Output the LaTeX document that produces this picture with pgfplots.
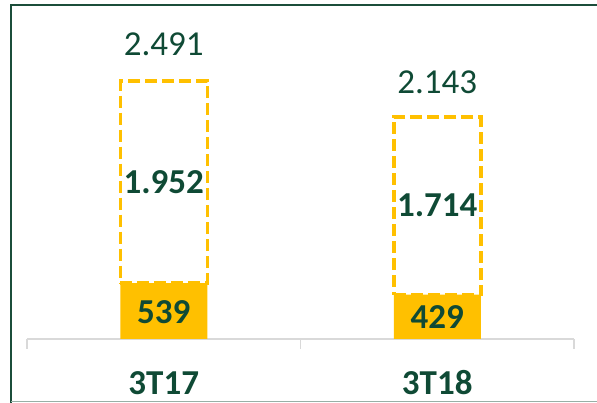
\documentclass[border=0pt]{standalone}
\usepackage{fontspec}
\setmainfont{Carlito}
\usepackage{pgfplots}
\pgfplotsset{compat=1.18}
\definecolor{gold}{HTML}{FFC000}
\definecolor{dgreen}{HTML}{0F4A35}
\definecolor{framec}{HTML}{1B4D3A}
\definecolor{axgray}{HTML}{D9D9D9}
\begin{document}
\begin{tikzpicture}[x=1pt,y=1pt]
\path[use as bounding box] (0,0) rectangle (597,403);
\draw[framec, line width=2.2pt] (11,0) -- (11,398) -- (597,398);
\draw[color=framec!45, line width=1pt] (11,1) -- (597,1);
\begin{axis}[
  at={(27pt,64pt)}, anchor=south west,
  scale only axis, width=547pt, height=269.4pt,
  xmin=-0.5, xmax=1.5, ymin=0, ymax=2600,
  ybar stacked, bar width=87pt,
  clip=false,
  axis y line=none,
  axis x line*=bottom,
  x axis line style={-, draw=axgray, line width=1.5pt},
  xtick={-0.5,0.5,1.5}, xticklabels={},
  xtick align=outside, major tick length=10pt,
  xtick style={draw=axgray, line width=1.5pt},
  ytick=\empty,
]
\addplot[fill=gold, draw=none] coordinates {(0,539) (1,429)};
\addplot[draw=gold, line width=3.5pt, dash pattern=on 12pt off 5pt, fill=none] coordinates {(0,1952) (1,1714)};
\coordinate (t1) at (axis cs:0,2491);
\coordinate (t2) at (axis cs:1,2143);
\coordinate (m1) at (axis cs:0,1515);
\coordinate (m2) at (axis cs:1,1286);
\coordinate (b1) at (axis cs:0,260);
\coordinate (b2) at (axis cs:1,210);
\coordinate (c1) at (axis cs:0,0);
\coordinate (c2) at (axis cs:1,0);
\end{axis}
\node[dgreen, font=\fontsize{35}{40}\selectfont] at ([yshift=37pt]t1) {2.491};
\node[dgreen, font=\fontsize{35}{40}\selectfont] at ([yshift=35pt]t2) {2.143};
\node[dgreen, font=\fontsize{35}{40}\selectfont\bfseries] at (m1) {1.952};
\node[dgreen, font=\fontsize{35}{40}\selectfont\bfseries] at (m2) {1.714};
\node[dgreen, font=\fontsize{35}{40}\selectfont\bfseries] at (b1) {539};
\node[dgreen, font=\fontsize{35}{40}\selectfont\bfseries] at (b2) {429};
\node[dgreen, font=\fontsize{35}{40}\selectfont\bfseries] at ([yshift=-44pt]c1) {3T17};
\node[dgreen, font=\fontsize{35}{40}\selectfont\bfseries] at ([yshift=-44pt]c2) {3T18};
\end{tikzpicture}
\end{document}
